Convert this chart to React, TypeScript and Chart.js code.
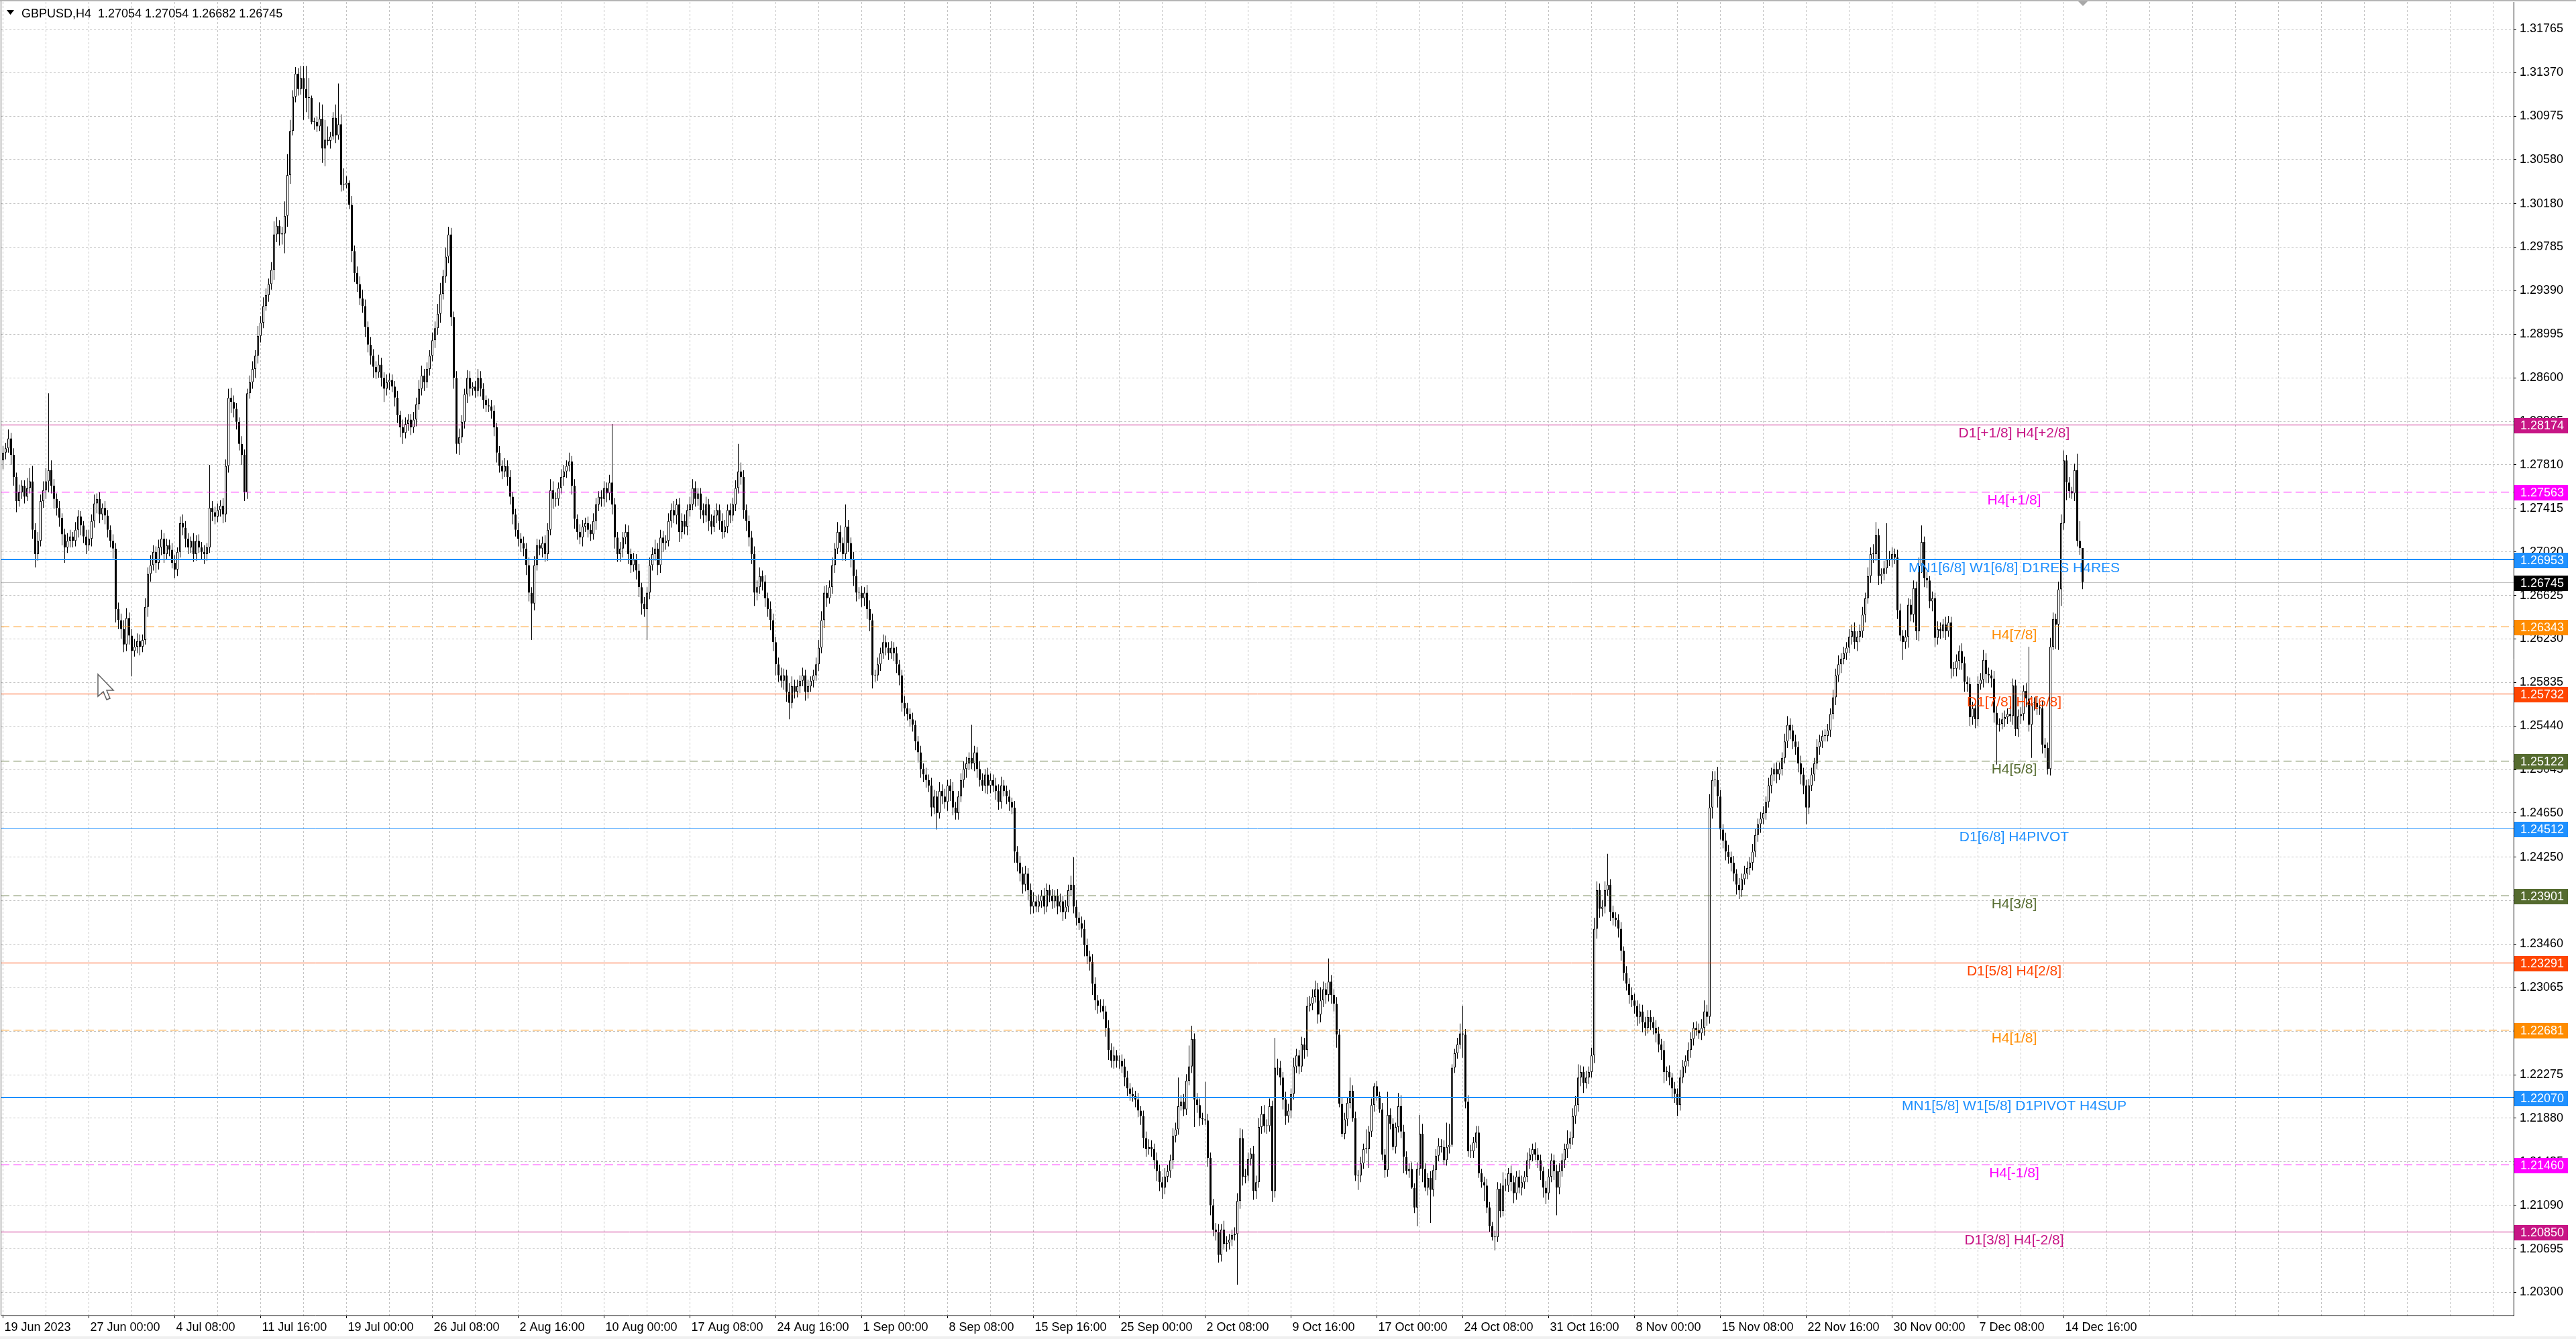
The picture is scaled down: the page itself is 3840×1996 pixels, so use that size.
import React, { useEffect, useRef } from 'react';
import { Chart, registerables } from 'chart.js';

Chart.register(...registerables);

// Prices are stored in pips above 1.2000 (e.g. 705 -> 1.2705). Open of each bar = previous close.
const BASE = 1.2;
const FIRST_OPEN = 785;

// H4 closes, one row per trading day (19 Jun 16:00 ... 15 Dec)
const CLOSES: number[] = [
  792, 796,
  805, 790, 770, 748, 756, 762,
  752, 760, 766, 722, 700, 712,
  748, 758, 766, 776, 762, 750,
  742, 733, 718, 706, 712, 716,
  712, 722, 734, 726, 716, 708,
  714, 730, 746, 750, 736, 742,
  735, 722, 712, 705, 650, 640,
  632, 618, 642, 626, 612, 616,
  621, 616, 622, 652, 682, 690,
  702, 692, 706, 714, 700, 708,
  704, 692, 686, 702, 728, 724,
  714, 706, 712, 700, 712, 706,
  702, 700, 706, 742, 738, 734,
  740, 744, 736, 780, 842, 838,
  832, 820, 800, 790, 756, 846,
  856, 868, 880, 898, 910, 925,
  935, 945, 958, 990, 998, 990,
  991, 1007, 1044, 1084, 1115, 1136,
  1122, 1132, 1122, 1114, 1114, 1092,
  1092, 1088, 1095, 1068, 1076, 1075,
  1079, 1096, 1080, 1090, 1035, 1035,
  1037, 1017, 975, 955, 945, 932,
  925, 906, 890, 880, 870, 865,
  872, 860, 850, 856, 858, 852,
  842, 826, 815, 810, 818, 822,
  815, 822, 836, 850, 862, 856,
  868, 880, 894, 905, 918, 936,
  952, 970, 990, 915, 860, 800,
  806, 820, 845, 860, 850, 852,
  848, 860, 850, 840, 835, 834,
  830, 815, 792, 780, 775, 780,
  770, 752, 736, 722, 714, 710,
  705, 690, 665, 655, 690, 708,
  705, 710, 700, 722, 758, 750,
  750, 760, 770, 775, 780, 784,
  762, 732, 720, 715, 725, 728,
  722, 718, 730, 745, 752, 750,
  760, 755, 765, 745, 715, 700,
  705, 715, 720, 700, 690, 695,
  685, 670, 655, 650, 665, 690,
  700, 705, 690, 715, 710, 712,
  730, 740, 735, 745, 720, 730,
  725, 740, 745, 760, 750, 755,
  740, 735, 745, 730, 725, 735,
  740, 730, 720, 725, 740, 735,
  745, 760, 775, 770, 740, 730,
  715, 700, 665, 670, 680, 675,
  660, 650, 640, 620, 600, 590,
  585, 590, 575, 565, 580, 575,
  580, 585, 590, 575, 580, 585,
  590, 600, 615, 640, 665, 660,
  670, 690, 705, 720, 710, 700,
  725, 710, 695, 680, 665, 665,
  660, 665, 650, 640, 590, 590,
  600, 610, 620, 615, 610, 615,
  610, 600, 590, 565, 560, 555,
  550, 545, 530, 520, 505, 500,
  495, 490, 470, 480, 465, 485,
  480, 475, 490, 485, 470, 465,
  480, 495, 505, 510, 515, 510,
  520, 505, 495, 490, 500, 490,
  495, 490, 485, 475, 490, 485,
  480, 475, 470, 430, 420, 410,
  400, 410, 395, 380, 385, 380,
  385, 390, 380, 395, 390, 385,
  390, 380, 385, 375, 380, 395,
  400, 380, 370, 365, 360, 345,
  335, 330, 310, 295, 290, 290,
  285, 270, 250, 240, 245, 240,
  240, 235, 225, 215, 210, 208,
  205, 195, 190, 170, 160, 162,
  160, 150, 140, 130, 125, 135,
  140, 150, 172, 178, 199, 203,
  196, 222, 235, 260, 205, 200,
  188, 187, 186, 152, 109, 87,
  85, 64, 87, 74, 75, 78,
  82, 83, 113, 170, 135, 136,
  151, 156, 122, 130, 180, 192,
  181, 181, 199, 122, 234, 234,
  225, 205, 190, 195, 210, 235,
  245, 235, 255, 250, 290, 292,
  298, 305, 282, 295, 305, 300,
  312, 300, 292, 264, 201, 174,
  187, 202, 213, 188, 136, 136,
  147, 160, 160, 176, 200, 217,
  208, 196, 155, 141, 191, 183,
  162, 180, 199, 176, 153, 140,
  142, 125, 107, 142, 174, 142,
  125, 134, 123, 141, 154, 163,
  162, 150, 162, 164, 234, 247,
  255, 265, 264, 203, 158, 158,
  166, 175, 138, 130, 127, 107,
  90, 80, 80, 124, 104, 127,
  127, 138, 130, 120, 135, 125,
  130, 135, 150, 155, 160, 155,
  150, 140, 125, 120, 135, 150,
  140, 125, 140, 150, 160, 165,
  170, 190, 200, 225, 230, 220,
  225, 230, 245, 360, 395, 378,
  380, 395, 400, 375, 370, 368,
  360, 340, 320, 310, 300, 295,
  290, 280, 285, 275, 270, 280,
  275, 270, 265, 255, 250, 230,
  230, 225, 215, 210, 200, 225,
  235, 240, 250, 260, 270, 268,
  265, 270, 285, 280, 470, 495,
  495, 480, 450, 440, 430, 425,
  420, 410, 400, 395, 405, 410,
  415, 420, 430, 445, 455, 460,
  465, 475, 490, 500, 505, 500,
  505, 515, 530, 545, 540, 530,
  525, 510, 500, 490, 470, 490,
  500, 510, 525, 530, 535, 535,
  540, 555, 570, 590, 600, 605,
  610, 615, 625, 630, 620, 625,
  630, 645, 660, 680, 700, 700,
  717, 680, 682, 687, 695, 695,
  700, 697, 649, 626, 620, 625,
  654, 645, 669, 630, 689, 711,
  678, 676, 657, 660, 624, 632,
  630, 636, 630, 638, 596, 596,
  603, 612, 601, 584, 582, 552,
  560, 550, 582, 586, 604, 591,
  590, 587, 556, 545, 546, 550,
  552, 555, 553, 581, 541, 553,
  555, 576, 569, 545, 565, 565,
  561, 560, 527, 524, 505, 616,
  641, 636, 668, 728, 785, 765,
  757, 755, 776, 712, 705.4, 674.5,
];

// upper wick length above the body (pips)
const WICK_UP: number[] = [
  6, 5,
  8, 5, 6, 4, 7, 5,
  5, 9, 12, 14, 6, 8,
  6, 8, 12, 70, 9, 6,
  5, 6, 4, 5, 7, 6,
  4, 7, 6, 5, 4, 6,
  8, 6, 8, 5, 6, 4,
  6, 5, 4, 6, 5, 6,
  6, 8, 9, 5, 6, 7,
  7, 6, 5, 8, 6, 9,
  6, 5, 7, 8, 5, 6,
  5, 6, 7, 4, 6, 8,
  6, 5, 4, 7, 5, 6,
  5, 6, 4, 39, 6, 5,
  6, 5, 7, 6, 8, 9,
  6, 5, 4, 7, 5, 4,
  6, 7, 5, 9, 6, 8,
  6, 5, 7, 12, 8, 5,
  6, 13, 19, 10, 6, 6,
  5, 11, 11, 21, 18, 2,
  4, 5, 15, 13, 18, 12,
  4, 5, 12, 37, 9, 15,
  6, 2, 8, 5, 6, 7,
  8, 6, 5, 7, 6, 5,
  9, 6, 5, 7, 6, 5,
  5, 6, 4, 7, 6, 5,
  5, 7, 6, 8, 9, 6,
  6, 5, 7, 6, 9, 10,
  6, 8, 7, 6, 5, 6,
  8, 6, 5, 7, 6, 4,
  5, 8, 6, 5, 4, 6,
  6, 5, 4, 6, 5, 7,
  5, 6, 4, 5, 6, 5,
  6, 5, 7, 5, 8, 6,
  5, 6, 7, 6, 10, 8,
  6, 5, 7, 6, 5, 8,
  5, 6, 4, 7, 6, 5,
  6, 5, 7, 6, 5, 6,
  6, 5, 7, 53, 6, 5,
  6, 5, 7, 6, 5, 6,
  5, 6, 4, 6, 5, 7,
  6, 8, 5, 7, 6, 5,
  7, 6, 8, 5, 6, 7,
  6, 5, 7, 8, 6, 5,
  5, 6, 7, 5, 6, 5,
  6, 5, 7, 6, 5, 6,
  6, 7, 25, 8, 6, 5,
  5, 6, 7, 6, 8, 5,
  6, 5, 7, 6, 5, 6,
  7, 6, 5, 8, 9, 6,
  6, 5, 7, 5, 6, 4,
  5, 6, 7, 8, 6, 7,
  6, 7, 5, 9, 6, 5,
  20, 6, 5, 7, 6, 5,
  6, 5, 7, 8, 6, 5,
  6, 5, 7, 6, 5, 6,
  5, 6, 4, 5, 6, 5,
  5, 6, 4, 5, 6, 5,
  6, 5, 7, 6, 5, 8,
  6, 7, 5, 6, 8, 5,
  5, 6, 7, 6, 5, 30,
  6, 5, 7, 6, 5, 6,
  6, 5, 7, 6, 8, 5,
  5, 6, 4, 6, 5, 6,
  6, 7, 5, 6, 8, 5,
  6, 5, 7, 6, 5, 6,
  5, 6, 7, 5, 6, 5,
  8, 25, 6, 5, 6, 8,
  6, 5, 7, 6, 5, 6,
  6, 5, 7, 6, 8, 5,
  5, 6, 7, 6, 5, 6,
  5, 6, 4, 5, 6, 7,
  6, 5, 7, 6, 5, 8,
  6, 5, 7, 6, 26, 6,
  7, 6, 19, 12, 5, 6,
  6, 5, 34, 6, 5, 6,
  6, 7, 5, 8, 6, 5,
  5, 6, 7, 9, 8, 6,
  6, 5, 7, 6, 8, 7,
  8, 6, 7, 5, 27, 8,
  6, 5, 7, 6, 5, 8,
  6, 5, 7, 6, 8, 7,
  7, 8, 6, 12, 7, 6,
  21, 6, 5, 6, 5, 6,
  6, 5, 12, 5, 6, 5,
  6, 5, 18, 5, 6, 3,
  5, 4, 6, 5, 21, 6,
  5, 4, 12, 10, 6, 5,
  5, 6, 4, 6, 17, 9,
  5, 4, 6, 5, 6, 7,
  6, 6, 22, 19, 3, 4,
  6, 9, 25, 5, 6, 6,
  5, 6, 6, 4, 5, 6,
  5, 4, 6, 6, 5, 12,
  6, 5, 7, 6, 5, 6,
  6, 5, 7, 6, 5, 6,
  6, 5, 4, 6, 7, 6,
  5, 6, 7, 6, 5, 12,
  6, 7, 8, 12, 6, 5,
  6, 5, 7, 10, 8, 6,
  6, 8, 28, 5, 6, 5,
  5, 6, 4, 6, 5, 7,
  6, 5, 7, 6, 5, 6,
  6, 5, 7, 6, 5, 8,
  5, 6, 4, 6, 5, 7,
  6, 5, 7, 6, 5, 6,
  6, 8, 10, 6, 12, 8,
  8, 12, 6, 5, 7, 6,
  5, 6, 4, 6, 5, 7,
  6, 5, 7, 6, 5, 6,
  6, 5, 7, 6, 5, 6,
  6, 5, 7, 8, 6, 5,
  6, 5, 7, 6, 5, 6,
  6, 5, 7, 6, 5, 6,
  6, 5, 7, 6, 8, 5,
  6, 5, 7, 6, 8, 5,
  6, 7, 5, 8, 6, 9,
  12, 6, 5, 7, 33, 8,
  6, 5, 7, 6, 5, 6,
  6, 5, 7, 6, 8, 15,
  5, 6, 4, 6, 5, 7,
  6, 5, 7, 6, 5, 6,
  6, 5, 7, 6, 5, 6,
  6, 5, 7, 6, 9, 6,
  6, 5, 7, 6, 5, 6,
  6, 5, 7, 6, 5, 6,
  6, 5, 7, 47, 6, 5,
  6, 5, 7, 6, 5, 8,
  6, 5, 7, 8, 9, 5,
  5, 4, 6, 15, 18, 0,
];

// lower wick length below the body (pips)
const WICK_DN: number[] = [
  8, 6,
  4, 9, 8, 10, 5, 6,
  6, 4, 5, 8, 12, 6,
  5, 6, 8, 10, 7, 9,
  7, 8, 10, 14, 5, 6,
  6, 5, 7, 9, 6, 8,
  5, 7, 6, 9, 8, 5,
  8, 7, 6, 9, 12, 8,
  9, 7, 6, 8, 23, 5,
  6, 8, 5, 4, 9, 7,
  5, 9, 6, 7, 8, 5,
  6, 5, 8, 6, 5, 7,
  8, 6, 5, 7, 6, 5,
  7, 9, 6, 5, 8, 7,
  5, 6, 8, 7, 6, 10,
  8, 7, 6, 9, 8, 6,
  5, 6, 8, 7, 6, 5,
  4, 6, 5, 9, 7, 10,
  9, 18, 10, 8, 4, 5,
  6, 5, 28, 13, 19, 2,
  7, 5, 4, 13, 16, 4,
  7, 3, 7, 4, 6, 5,
  3, 4, 10, 8, 7, 6,
  6, 9, 7, 8, 10, 6,
  5, 8, 12, 6, 7, 5,
  8, 7, 9, 10, 5, 6,
  7, 5, 6, 5, 6, 8,
  5, 6, 5, 7, 6, 8,
  5, 6, 6, 8, 10, 9,
  10, 5, 6, 8, 7, 6,
  6, 5, 7, 8, 6, 5,
  7, 8, 9, 6, 7, 5,
  8, 7, 9, 6, 7, 8,
  7, 9, 8, 33, 6, 5,
  6, 8, 7, 6, 5, 9,
  7, 6, 5, 8, 6, 5,
  8, 9, 7, 6, 8, 5,
  7, 6, 5, 8, 6, 7,
  7, 8, 6, 9, 10, 7,
  7, 8, 6, 9, 7, 6,
  8, 9, 10, 7, 28, 6,
  5, 6, 9, 7, 8, 6,
  5, 6, 7, 8, 9, 6,
  7, 8, 6, 5, 7, 6,
  8, 7, 6, 9, 7, 5,
  7, 8, 6, 5, 6, 7,
  5, 6, 5, 7, 8, 9,
  8, 9, 12, 7, 6, 8,
  8, 7, 9, 8, 10, 6,
  6, 8, 9, 15, 5, 6,
  5, 6, 5, 8, 6, 5,
  6, 5, 6, 5, 7, 8,
  5, 6, 7, 5, 8, 6,
  6, 8, 7, 9, 8, 6,
  8, 7, 9, 10, 12, 6,
  5, 6, 5, 7, 6, 5,
  7, 8, 9, 8, 7, 6,
  7, 6, 8, 9, 8, 7,
  7, 6, 8, 6, 15, 5,
  7, 6, 8, 9, 7, 6,
  6, 5, 7, 8, 6, 5,
  7, 8, 6, 5, 7, 8,
  7, 6, 8, 7, 6, 5,
  7, 8, 6, 10, 8, 7,
  8, 6, 9, 7, 6, 5,
  5, 6, 7, 5, 6, 7,
  6, 7, 5, 8, 6, 5,
  5, 6, 7, 6, 8, 10,
  7, 8, 10, 9, 7, 6,
  7, 8, 9, 6, 7, 6,
  7, 6, 8, 7, 6, 5,
  7, 6, 8, 9, 7, 5,
  7, 8, 9, 8, 10, 6,
  5, 6, 8, 6, 5, 4,
  6, 5, 4, 6, 25, 7,
  7, 5, 4, 8, 9, 6,
  8, 7, 6, 5, 7, 6,
  6, 5, 46, 7, 8, 6,
  5, 6, 8, 7, 5, 6,
  6, 7, 5, 10, 6, 7,
  7, 9, 8, 6, 7, 5,
  6, 7, 5, 8, 6, 5,
  6, 5, 8, 7, 6, 8,
  6, 8, 7, 12, 3, 3,
  5, 6, 5, 3, 5, 13,
  6, 5, 4, 17, 5, 6,
  4, 3, 5, 7, 6, 5,
  3, 6, 5, 6, 15, 3,
  6, 1, 5, 17, 6, 12,
  3, 7, 30, 6, 9, 5,
  5, 4, 5, 6, 2, 5,
  5, 4, 21, 6, 5, 6,
  6, 5, 4, 5, 14, 5,
  5, 3, 12, 4, 6, 5,
  5, 6, 8, 9, 6, 5,
  7, 6, 5, 8, 6, 5,
  7, 8, 9, 10, 6, 5,
  8, 25, 6, 5, 7, 8,
  5, 6, 7, 6, 8, 9,
  5, 6, 5, 7, 9, 8,
  7, 6, 5, 8, 7, 6,
  8, 9, 7, 6, 8, 6,
  7, 8, 6, 9, 7, 5,
  7, 6, 8, 7, 9, 10,
  8, 7, 9, 8, 10, 5,
  5, 6, 5, 7, 6, 5,
  5, 6, 7, 8, 6, 10,
  6, 10, 9, 7, 8, 6,
  8, 7, 9, 8, 6, 5,
  5, 6, 7, 5, 6, 8,
  5, 6, 5, 7, 6, 8,
  5, 6, 5, 6, 8, 7,
  7, 8, 9, 8, 15, 6,
  5, 6, 5, 7, 6, 5,
  5, 6, 5, 7, 6, 8,
  5, 6, 5, 7, 6, 8,
  5, 6, 7, 5, 6, 8,
  6, 8, 7, 6, 5, 6,
  7, 6, 8, 5, 16, 6,
  10, 6, 7, 8, 9, 6,
  8, 7, 6, 9, 8, 6,
  7, 6, 8, 5, 9, 7,
  7, 8, 6, 9, 7, 8,
  7, 8, 6, 5, 7, 8,
  7, 8, 9, 36, 6, 5,
  7, 6, 5, 8, 6, 7,
  7, 6, 8, 6, 30, 7,
  7, 6, 8, 9, 5, 6,
  3, 22, 23, 15, 6, 16,
  6, 5, 7, 5, 6, 6.3,
];

const TIME_LABELS = [
  '19 Jun 2023', '27 Jun 00:00', '4 Jul 08:00', '11 Jul 16:00', '19 Jul 00:00', '26 Jul 08:00',
  '2 Aug 16:00', '10 Aug 00:00', '17 Aug 08:00', '24 Aug 16:00', '1 Sep 00:00', '8 Sep 08:00',
  '15 Sep 16:00', '25 Sep 00:00', '2 Oct 08:00', '9 Oct 16:00', '17 Oct 00:00', '24 Oct 08:00',
  '31 Oct 16:00', '8 Nov 00:00', '15 Nov 08:00', '22 Nov 16:00', '30 Nov 00:00', '7 Dec 08:00',
  '14 Dec 16:00',
];
const BARS_PER_LABEL = 32;
const BARS_PER_GRID = 16;

const PRICE_TICKS = [
  1.31765, 1.3137, 1.30975, 1.3058, 1.3018, 1.29785, 1.2939, 1.28995, 1.286, 1.28205,
  1.2781, 1.27415, 1.2702, 1.26625, 1.2623, 1.25835, 1.2544, 1.25045, 1.2465, 1.2425,
  1.23855, 1.2346, 1.23065, 1.2267, 1.22275, 1.2188, 1.21485, 1.2109, 1.20695, 1.203,
];

const LEVEL_PRICES = [1.28174, 1.27563, 1.26953, 1.26343, 1.25732, 1.25122, 1.24512, 1.23901, 1.23291, 1.22681, 1.2207, 1.2146, 1.2085];
const LEVEL_LABELS = [
  'D1[+1/8] H4[+2/8]', 'H4[+1/8]', 'MN1[6/8] W1[6/8] D1RES H4RES', 'H4[7/8]', 'D1[7/8] H4[6/8]',
  'H4[5/8]', 'D1[6/8] H4PIVOT', 'H4[3/8]', 'D1[5/8] H4[2/8]', 'H4[1/8]',
  'MN1[5/8] W1[5/8] D1PIVOT H4SUP', 'H4[-1/8]', 'D1[3/8] H4[-2/8]',
];
const LEVEL_COLORS = ['#C71585', '#FF00FF', '#1E90FF', '#FF8C00', '#FF4500', '#556B2F', '#1E90FF', '#556B2F', '#FF4500', '#FF8C00', '#1E90FF', '#FF00FF', '#C71585'];
const LEVEL_STYLES = ['solid', 'dash', 'thick', 'dash', 'solid', 'dash', 'solid', 'dash', 'solid', 'dash', 'thick', 'dash', 'solid'];

const BID = 1.26745;
const HEADER = 'GBPUSD,H4  1.27054 1.27054 1.26682 1.26745';

const FONT = '"Liberation Sans", Arial, sans-serif';

const toPrice = (p: number) => BASE + p / 10000;

function buildCandles() {
  const n = Math.min(CLOSES.length, WICK_UP.length, WICK_DN.length);
  const out: { i: number; o: number; c: number; h: number; l: number }[] = [];
  for (let i = 0; i < n; i++) {
    const o = i === 0 ? FIRST_OPEN : CLOSES[i - 1];
    const c = CLOSES[i];
    const top = Math.max(o, c);
    const bot = Math.min(o, c);
    out.push({ i, o: toPrice(o), c: toPrice(c), h: toPrice(top + WICK_UP[i]), l: toPrice(bot - WICK_DN[i]) });
  }
  return out;
}

const mt4Plugin = {
  id: 'mt4',
  beforeDraw(chart: any) {
    const { ctx, width, height } = chart;
    ctx.save();
    ctx.fillStyle = '#FFFFFF';
    ctx.fillRect(0, 0, width, height);
    ctx.restore();
  },
  beforeDatasetsDraw(chart: any) {
    const { ctx, chartArea } = chart;
    const y = chart.scales.y.getPixelForValue(BID);
    ctx.save();
    ctx.strokeStyle = '#C0C0C0';
    ctx.lineWidth = 1;
    ctx.beginPath();
    ctx.moveTo(chartArea.left, Math.round(y) + 0.5);
    ctx.lineTo(chartArea.right, Math.round(y) + 0.5);
    ctx.stroke();
    ctx.restore();
  },
  afterDatasetsDraw(chart: any) {
    const { ctx, chartArea } = chart;
    const ys = chart.scales.y;
    ctx.save();
    ctx.beginPath();
    ctx.rect(chartArea.left, chartArea.top, chartArea.right - chartArea.left, chartArea.bottom - chartArea.top);
    ctx.clip();
    LEVEL_PRICES.forEach((p, k) => {
      const y = ys.getPixelForValue(p);
      const style = LEVEL_STYLES[k];
      ctx.strokeStyle = LEVEL_COLORS[k];
      ctx.lineWidth = style === 'thick' ? 2 : 1;
      ctx.setLineDash(style === 'dash' ? [12, 6] : []);
      const yy = style === 'thick' ? Math.round(y) : Math.round(y) + 0.5;
      ctx.beginPath();
      ctx.moveTo(chartArea.left, yy);
      ctx.lineTo(chartArea.right, yy);
      ctx.stroke();
    });
    ctx.setLineDash([]);
    ctx.font = `21px ${FONT}`;
    ctx.textAlign = 'center';
    ctx.textBaseline = 'alphabetic';
    LEVEL_PRICES.forEach((p, k) => {
      const y = ys.getPixelForValue(p);
      ctx.fillStyle = LEVEL_COLORS[k];
      ctx.fillText(LEVEL_LABELS[k], 3002.5, Math.round(y) + 19);
    });
    ctx.restore();
  },
  afterDraw(chart: any) {
    const { ctx, chartArea } = chart;
    const ys = chart.scales.y;
    ctx.save();
    // price badges on the axis
    const badge = (p: number, color: string) => {
      const y = Math.round(ys.getPixelForValue(p));
      ctx.fillStyle = color;
      ctx.fillRect(chartArea.right + 1, y - 10, 80, 23);
      ctx.fillStyle = '#FFFFFF';
      ctx.font = `18px ${FONT}`;
      ctx.textAlign = 'left';
      ctx.textBaseline = 'middle';
      ctx.fillText(p.toFixed(5), chartArea.right + 10, y + 2);
    };
    LEVEL_PRICES.forEach((p, k) => badge(p, LEVEL_COLORS[k]));
    badge(BID, '#000000');

    // header
    ctx.fillStyle = '#000000';
    ctx.beginPath();
    ctx.moveTo(10, 15);
    ctx.lineTo(21, 15);
    ctx.lineTo(15.5, 22);
    ctx.closePath();
    ctx.fill();
    ctx.font = `18px ${FONT}`;
    ctx.textAlign = 'left';
    ctx.textBaseline = 'alphabetic';
    ctx.fillText(HEADER, 32, 26);

    // chart-shift marker at the top
    const xs = chart.scales.x;
    const sx = Math.round(xs.getPixelForValue(CLOSES.length - 1));
    ctx.fillStyle = '#A8A8A8';
    ctx.beginPath();
    ctx.moveTo(sx - 8, 1);
    ctx.lineTo(sx + 8, 1);
    ctx.lineTo(sx, 9);
    ctx.closePath();
    ctx.fill();

    // window frame
    ctx.fillStyle = '#B4B4B4';
    ctx.fillRect(0, 0, chart.width, 2);
    ctx.fillStyle = '#505050';
    ctx.fillRect(1, 2, 1, chartArea.bottom - 2);
    ctx.fillStyle = '#F0F0F0';
    ctx.fillRect(0, 1992, chart.width, 4);

    // mouse pointer
    const cx = 146, cy = 1005;
    const pts = [[0, 0], [0, 33], [8, 26], [13, 38], [18, 36], [13, 24], [23, 24]];
    ctx.beginPath();
    pts.forEach(([a, b], i) => (i ? ctx.lineTo(cx + a, cy + b) : ctx.moveTo(cx + a, cy + b)));
    ctx.closePath();
    ctx.fillStyle = '#FFFFFF';
    ctx.fill();
    ctx.strokeStyle = '#606060';
    ctx.lineWidth = 1.5;
    ctx.stroke();
    ctx.restore();
  },
};

export default function App() {
  const ref = useRef<HTMLCanvasElement>(null);
  useEffect(() => {
    document.body.style.margin = '0';
    document.body.style.overflow = 'hidden';
    const canvas = ref.current;
    if (!canvas) return;
    const candles = buildCandles();
    const gridTicks: number[] = [];
    for (let k = 0; k <= 935; k += BARS_PER_GRID) gridTicks.push(k);
    const isLabelTick = (v: number) => v % BARS_PER_LABEL === 0 && v / BARS_PER_LABEL < TIME_LABELS.length;

    const chart = new Chart(canvas, {
      type: 'bar',
      data: {
        datasets: [
          {
            label: 'wicks',
            data: candles.map((k) => ({ x: k.i, y: [k.l, k.h] })),
            backgroundColor: '#000000',
            borderWidth: 0,
            barThickness: 1,
            grouped: false,
            inflateAmount: 0,
            minBarLength: 1,
            order: 2,
          } as any,
          {
            label: 'bodies',
            data: candles.map((k) => ({ x: k.i, y: [k.o, k.c] })),
            backgroundColor: candles.map((k) => (k.c >= k.o ? '#FFFFFF' : '#000000')),
            borderColor: '#000000',
            borderWidth: 1,
            borderSkipped: false,
            barThickness: 3,
            grouped: false,
            inflateAmount: 0,
            minBarLength: 1,
            order: 1,
          } as any,
        ],
      },
      options: {
        responsive: false,
        maintainAspectRatio: false,
        devicePixelRatio: 1,
        animation: false,
        events: [],
        layout: { padding: { left: 2, top: 3, right: 0, bottom: 0 } },
        plugins: { legend: { display: false }, tooltip: { enabled: false }, title: { display: false } },
        scales: {
          x: {
            type: 'linear',
            position: 'bottom',
            min: -0.625,
            max: 935.625,
            offset: false,
            bounds: 'data',
            afterBuildTicks: (s: any) => {
              s.ticks = gridTicks.map((v) => ({ value: v }));
            },
            afterFit: (s: any) => {
              s.height = 35;
              s.paddingLeft = 0;
              s.paddingRight = 0;
            },
            ticks: {
              autoSkip: false,
              maxRotation: 0,
              minRotation: 0,
              align: 'start',
              labelOffset: 2,
              padding: 3,
              color: '#000000',
              font: { family: FONT, size: 18 },
              callback: (v: any) => (isLabelTick(Number(v)) ? TIME_LABELS[Number(v) / BARS_PER_LABEL] : ''),
            },
            grid: {
              offset: false,
              color: '#C4C4C4',
              lineWidth: 1,
              drawTicks: true,
              tickLength: 4,
              tickWidth: 1,
              tickBorderDash: [],
              tickColor: (ctx: any) => (ctx.tick && isLabelTick(ctx.tick.value) ? '#000000' : 'rgba(0,0,0,0)'),
            },
            border: { display: true, color: '#000000', width: 1, dash: [3, 3] },
          } as any,
          y: {
            type: 'linear',
            position: 'right',
            min: 1.2009,
            max: 1.3201,
            beginAtZero: false,
            bounds: 'data',
            afterBuildTicks: (s: any) => {
              s.ticks = PRICE_TICKS.map((v) => ({ value: v }));
            },
            afterFit: (s: any) => {
              s.width = 93;
              s.paddingTop = 0;
              s.paddingBottom = 0;
            },
            ticks: {
              autoSkip: false,
              padding: 5,
              color: '#000000',
              font: { family: FONT, size: 18 },
              callback: (v: any) => Number(v).toFixed(5),
            },
            grid: {
              color: '#C4C4C4',
              lineWidth: 1,
              drawTicks: true,
              tickLength: 4,
              tickWidth: 1,
              tickBorderDash: [],
              tickColor: '#000000',
            },
            border: { display: true, color: '#000000', width: 1, dash: [3, 3] },
          } as any,
        },
      } as any,
      plugins: [mt4Plugin as any],
    });
    return () => chart.destroy();
  }, []);

  return (
    <canvas
      ref={ref}
      width={3840}
      height={1996}
      style={{ display: 'block', width: '3840px', height: '1996px' }}
    />
  );
}
